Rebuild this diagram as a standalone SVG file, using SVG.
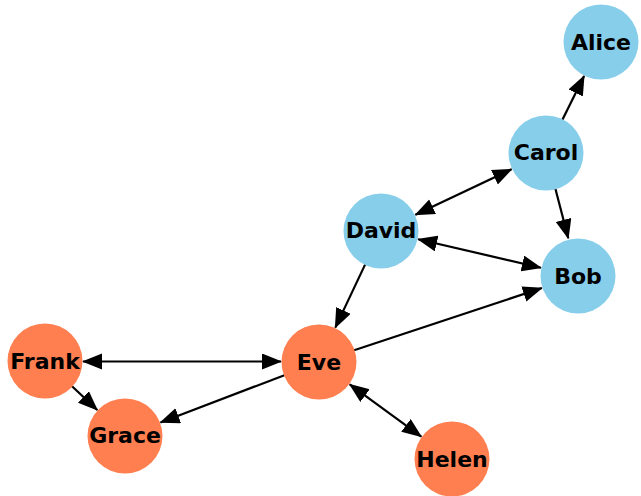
<svg xmlns="http://www.w3.org/2000/svg" width="641" height="496" viewBox="0 0 641 496">
<style>
.blue{fill:#87CEEB}
.orange{fill:#FF7F50}
.lbl{font-family:"DejaVu Sans","Liberation Sans",sans-serif;font-weight:bold;font-size:22px;fill:#000;text-anchor:middle;dominant-baseline:central}
.e{stroke:#000;stroke-width:2.2;fill:none}
.a{marker-end:url(#ah)}
.b{marker-start:url(#ah);marker-end:url(#ah)}
</style>
<defs>
<marker id="ah" markerUnits="userSpaceOnUse" markerWidth="22" markerHeight="17" refX="19" refY="8" orient="auto-start-reverse">
<path d="M0,0 L20,8 L0,16 z" fill="#000"/>
</marker>
</defs>
<rect width="641" height="496" fill="#fff"/>
<g id="edges">
<line class="e a" x1="562.4" y1="119.8" x2="584.1" y2="76"/>
<line class="e b" x1="511.6" y1="169.2" x2="415.4" y2="214.8"/>
<line class="e a" x1="555.4" y1="188.8" x2="568.3" y2="238.3"/>
<line class="e b" x1="418.1" y1="239.3" x2="540.9" y2="267.7"/>
<line class="e a" x1="365.2" y1="264.4" x2="335.3" y2="327.6"/>
<line class="e a" x1="354.1" y1="350.3" x2="541.9" y2="288"/>
<line class="e b" x1="83" y1="361.5" x2="281" y2="361.5"/>
<line class="e a" x1="284.4" y1="375.2" x2="160.5" y2="422.5"/>
<line class="e a" x1="72" y1="386.3" x2="97.3" y2="410"/>
<line class="e b" x1="349.7" y1="384.4" x2="421.3" y2="436.6"/>
</g>
<g id="Alice"><circle class="blue" cx="601" cy="42" r="37.5"/><text class="lbl" x="601" y="42">Alice</text></g>
<g id="Carol"><circle class="blue" cx="546" cy="153" r="37.5"/><text class="lbl" x="546" y="152">Carol</text></g>
<g id="David"><circle class="blue" cx="381" cy="231" r="37.5"/><text class="lbl" x="381" y="230">David</text></g>
<g id="Bob"><circle class="blue" cx="578" cy="276" r="37.5"/><text class="lbl" x="578" y="276">Bob</text></g>
<g id="Eve"><circle class="orange" cx="319" cy="362" r="37.5"/><text class="lbl" x="319" y="362">Eve</text></g>
<g id="Frank"><circle class="orange" cx="45" cy="361" r="37.5"/><text class="lbl" x="45" y="361">Frank</text></g>
<g id="Grace"><circle class="orange" cx="125" cy="436" r="37.5"/><text class="lbl" x="125" y="435">Grace</text></g>
<g id="Helen"><circle class="orange" cx="452" cy="459" r="37.5"/><text class="lbl" x="452" y="459">Helen</text></g>
</svg>
